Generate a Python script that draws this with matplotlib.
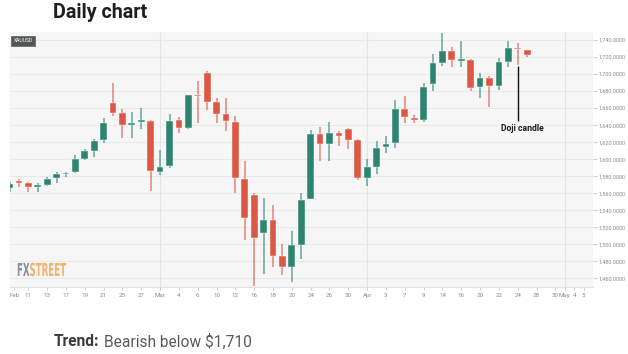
import numpy as np
import matplotlib
matplotlib.use("Agg")
import matplotlib.pyplot as plt
from matplotlib.textpath import TextPath
from matplotlib.patches import PathPatch
from matplotlib.font_manager import FontProperties
from matplotlib.transforms import Affine2D, IdentityTransform

# daily XAUUSD candles, Feb 7 .. Apr 27 (trading-day index)
opens = [1566, 1574.5, 1572, 1567, 1569.5, 1577.5, 1582.7, 1584.5, 1600.5, 1610,
         1622.4, 1665.5, 1653.7, 1640, 1643.5, 1645, 1584.7, 1591.8, 1645.5, 1636.1,
         1675.7, 1701, 1667, 1653.3, 1644, 1577, 1557.6, 1513.3, 1529, 1486,
         1473.3, 1499.6, 1553.7, 1629, 1618, 1631, 1636, 1623, 1578, 1591,
         1614, 1619.1, 1659.3, 1648.4, 1646.4, 1688.1, 1713.5, 1727.5, 1715.8, 1716.6,
         1684.3, 1695.2, 1686.2, 1713.9, 1730.3, 1728.3]
highs = [1573, 1577, 1573.5, 1572, 1578.5, 1585, 1585.5, 1604.7, 1612.5, 1623.5,
         1647.8, 1689, 1658.4, 1655, 1659.6, 1646.6, 1610.6, 1652.5, 1649, 1675,
         1692, 1703, 1672, 1672, 1650.6, 1597.6, 1560.4, 1554.5, 1546.7, 1500.8,
         1515.3, 1560.4, 1634, 1638, 1644, 1633, 1636.5, 1624, 1600.4, 1621,
         1627, 1669.8, 1673.7, 1652.3, 1690, 1723.6, 1747.8, 1731.4, 1739.2, 1717.5,
         1701.8, 1698, 1718.6, 1739.2, 1736.1, 1728.5]
lows = [1562, 1567, 1562, 1562, 1568.5, 1572.5, 1578.5, 1584, 1599, 1602.7,
        1618.5, 1650.6, 1624.3, 1624.3, 1635, 1562.4, 1581, 1590, 1631, 1635,
        1642, 1658, 1642.7, 1633, 1560.4, 1504.7, 1451, 1465.5, 1473, 1464.3,
        1455.7, 1482.7, 1553, 1598.4, 1598.4, 1615.3, 1612, 1575.3, 1568.2, 1582.7,
        1606.7, 1613.3, 1642.5, 1642.5, 1643.3, 1680.4, 1709.6, 1708, 1708.8, 1680.4,
        1671.8, 1661.2, 1680.7, 1708, 1710.8, 1719.7]
closes = [1571, 1572, 1567, 1570, 1577, 1583, 1584.3, 1600.5, 1610, 1621.6,
          1642.7, 1653.7, 1640, 1643, 1645.5, 1586, 1591, 1645, 1637, 1674.9,
          1674.1, 1667.5, 1653.3, 1644.7, 1577.3, 1531, 1507.5, 1529, 1486.7, 1473.3,
          1498.8, 1552.5, 1629, 1618, 1630.2, 1627.8, 1623, 1578, 1591, 1613.3,
          1618.4, 1659.3, 1649.6, 1646.4, 1684.6, 1712.7, 1727.5, 1716.6, 1717.4, 1683.5,
          1695.2, 1686.2, 1713.9, 1730.3, 1729, 1722.5]

tick_pos = [0.5, 2, 4, 6, 8, 10, 12, 14, 16, 18, 20, 22, 24, 26, 28, 30, 32, 34, 36,
            38, 40, 42, 44, 46, 48, 50, 52, 54, 56, 58, 59, 60, 61]
tick_lbl = ["Feb", "11", "13", "17", "19", "21", "25", "27", "Mar", "4", "6", "10", "12",
            "16", "18", "20", "24", "26", "30", "Apr", "3", "7", "9", "14", "16", "20",
            "22", "24", "28", "30", "May", "4", "5"]
month_starts = [16, 38, 59]
y_ticks = np.arange(1460, 1741, 20)
doji_idx = 54

GREEN = "#2d8470"
RED = "#dc5744"

plt.rcParams["font.family"] = ["Roboto", "DejaVu Sans"]

fig = plt.figure(figsize=(6.28, 3.54), dpi=100)
ax = fig.add_axes([10 / 628, 1 - 286.5 / 354, 583 / 628, 254.5 / 354])
ax.set_facecolor("#f6f6f6")

o = np.array(opens); h = np.array(highs); l = np.array(lows); c = np.array(closes)
x = np.arange(len(o))
up = c >= o
cols = np.where(up, GREEN, RED)

ax.vlines(x, l, h, colors=cols, linewidth=1.2, alpha=0.65, zorder=2)
body_lo = np.minimum(o, c)
body_h = np.maximum(np.abs(c - o), 1.5)
ax.bar(x, body_h, bottom=body_lo, width=0.72, color=cols, edgecolor="white",
       linewidth=0.3, zorder=3)

ax.set_xlim(0.05, 62)
ax.set_ylim(1450.4, 1749.4)

ax.set_yticks(y_ticks)
ax.set_yticklabels([f"{v:,.4f}" for v in y_ticks])
ax.yaxis.tick_right()
ax.set_xticks(tick_pos)
ax.set_xticklabels(tick_lbl)
ax.tick_params(axis="y", length=3, width=0.6, color="#c8c8c8", labelsize=4.0,
               labelcolor="#8a8a8a", pad=1.2)
ax.tick_params(axis="x", length=2, width=0.6, color="#c8c8c8", labelsize=4.4,
               labelcolor="#8a8a8a", pad=2.5)

ax.grid(axis="y", color="#e9e9e9", linewidth=0.8, zorder=0)
for m in month_starts:
    ax.axvline(m, color="#e4e4e4", linewidth=0.8, zorder=0)
for s in ["top", "left", "right"]:
    ax.spines[s].set_visible(False)
ax.spines["bottom"].set_color("#e2e2e2")
ax.set_axisbelow(True)

# symbol tag
ax.text(0.006, 0.965, "XAUUSD", transform=ax.transAxes, fontsize=3.6, color="white",
        va="center", ha="left",
        bbox=dict(boxstyle="square,pad=0.45", fc="#555555", ec="#3f6f64", lw=0.5))

# doji annotation
ax.vlines(doji_idx, 1644.8, 1708.9, color="#111111", linewidth=1.0, zorder=4)
ax.text(doji_idx + 0.45, 1635.5, "Doji candle", fontsize=6.2, fontweight="bold",
        color="#1a1a1a", ha="center", va="center", zorder=4)

# watermark, squeezed glyph outlines (no condensed font installed)
fp = FontProperties(family="DejaVu Sans", weight="bold")
p_fx = TextPath((0, 0), "FX", size=10, prop=fp)
p_st = TextPath((0, 0), "STREET", size=10, prop=fp)
e_fx = p_fx.get_extents(); e_st = p_st.get_extents()
cap = e_fx.y1
sy = 13.0 / cap
tot = e_fx.x1 + e_st.x1
sx = 49.0 / tot
x0 = 17.0; y0 = 354 - 276.0
fig.add_artist(PathPatch(p_fx, transform=Affine2D().scale(sx, sy).translate(x0, y0) + IdentityTransform(),
                         fc="#8c8c9c", ec="none", zorder=5))
fig.add_artist(PathPatch(p_st, transform=Affine2D().scale(sx, sy).translate(x0 + e_fx.x1 * sx, y0) + IdentityTransform(),
                         fc="#f2b26a", ec="none", zorder=5))

# headings
fig.text(53 / 628, 1 - 18.5 / 354, "Daily chart", fontsize=14.2, fontweight="bold",
         color="#1e1e1e", ha="left", va="baseline")
t1 = fig.text(54 / 628, 1 - 346.5 / 354, "Trend:", fontsize=11.2, fontweight="bold",
              color="#3a3a3a", ha="left", va="baseline")
fig.canvas.draw()
bb = t1.get_window_extent()
fig.text((bb.x1 + 4) / 628, 1 - 346.5 / 354, "Bearish below $1,710", fontsize=11.2,
         color="#5a5a5a", ha="left", va="baseline")

fig.savefig("out.png", dpi=100)
